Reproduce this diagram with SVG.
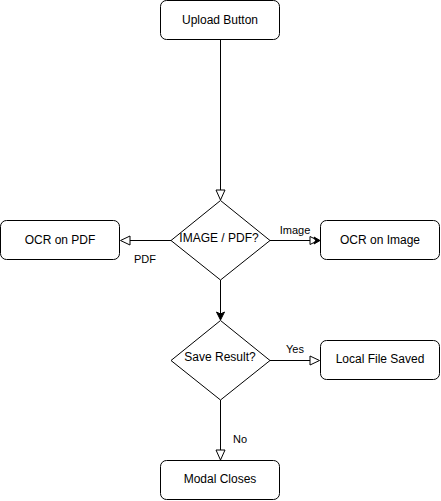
<svg xmlns="http://www.w3.org/2000/svg" width="441" height="501" viewBox="0 0 441 501">
<style>
.box{fill:#fff;stroke:#000;stroke-width:1}
.t{font-family:"Liberation Sans",Arial,sans-serif;font-size:12px;fill:#000;text-anchor:middle;dominant-baseline:central}
.l{font-family:"Liberation Sans",Arial,sans-serif;font-size:11px;fill:#000;text-anchor:middle;dominant-baseline:central}
.c{stroke:#000;stroke-width:1;fill:none}
.open{fill:#fff;stroke:#000;stroke-width:1}
.fill{fill:#000;stroke:#000;stroke-width:1}
</style>
<rect width="441" height="501" fill="#fff"/>
<g id="connectors">
<line class="c" x1="220.5" y1="40" x2="220.5" y2="190"/>
<path class="open" d="M220.5 200 L216 190 L225 190 Z"/>
<line class="c" x1="171" y1="240.5" x2="130" y2="240.5"/>
<path class="open" d="M120.5 240.5 L130 236 L130 245 Z"/>
<line class="c" x1="270" y1="240.5" x2="311" y2="240.5"/>
<path class="open" d="M318 240.5 L310 236.5 L310 244.5 Z"/>
<path class="fill" d="M320 240.5 L314 237 L315.5 240.5 L314 244 Z"/>
<line class="c" x1="220.5" y1="280" x2="220.5" y2="314"/>
<path class="fill" d="M220.5 320 L216.5 312 L220.5 314 L224.5 312 Z"/>
<line class="c" x1="270" y1="360.5" x2="310" y2="360.5"/>
<path class="open" d="M319.5 360.5 L310 356 L310 365 Z"/>
<line class="c" x1="220.5" y1="400" x2="220.5" y2="450"/>
<path class="open" d="M220.5 460 L216 450 L225 450 Z"/>
<text class="l" x="295" y="229.5">Image</text>
<text class="l" x="145" y="258.5">PDF</text>
<text class="l" x="295" y="349">Yes</text>
<text class="l" x="240" y="438.5">No</text>
</g>
<g id="upload"><rect class="box" x="160.5" y="0.5" width="119" height="39" rx="6"/><text class="t" x="220" y="20">Upload Button</text></g>
<g id="decision1"><path class="box" d="M220.5 200.5 L270 240.5 L220.5 280 L171 240.5 Z"/><text class="t" x="219" y="238">IMAGE / PDF?</text></g>
<g id="ocrpdf"><rect class="box" x="0.5" y="220.5" width="119" height="39" rx="6"/><text class="t" x="60" y="240">OCR on PDF</text></g>
<g id="ocrimage"><rect class="box" x="320.5" y="220.5" width="119" height="39" rx="6"/><text class="t" x="380" y="240">OCR on Image</text></g>
<g id="decision2"><path class="box" d="M220.5 320.5 L270 360.5 L220.5 400 L171 360.5 Z"/><text class="t" x="220" y="357">Save Result?</text></g>
<g id="saved"><rect class="box" x="320.5" y="340.5" width="119" height="39" rx="6"/><text class="t" x="380" y="359">Local File Saved</text></g>
<g id="modal"><rect class="box" x="160.5" y="460.5" width="119" height="39" rx="6"/><text class="t" x="220" y="479">Modal Closes</text></g>
</svg>
